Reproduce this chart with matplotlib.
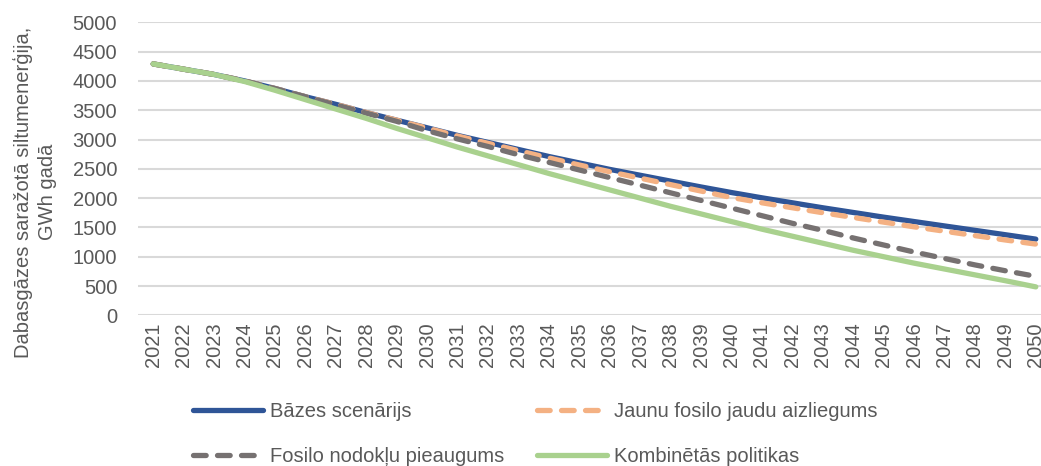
import matplotlib
matplotlib.use("Agg")
import matplotlib.pyplot as plt

years = list(range(2021, 2051))

bazes = [4290, 4200, 4110, 4000, 3870, 3730, 3600, 3460, 3330, 3200,
         3070, 2950, 2830, 2710, 2600, 2490, 2390, 2290, 2190, 2095,
         2005, 1920, 1835, 1755, 1675, 1600, 1525, 1450, 1375, 1300]
jaunu = [4290, 4200, 4110, 4000, 3870, 3730, 3600, 3460, 3330, 3195,
         3060, 2935, 2810, 2685, 2565, 2450, 2340, 2230, 2120, 2010,
         1920, 1835, 1750, 1670, 1590, 1510, 1435, 1360, 1285, 1215]
nodoklu = [4290, 4200, 4110, 4000, 3870, 3730, 3590, 3450, 3310, 3150,
           3010, 2880, 2740, 2610, 2480, 2350, 2220, 2090, 1960, 1830,
           1700, 1570, 1450, 1320, 1200, 1080, 970, 860, 760, 665]
kombi = [4290, 4200, 4110, 3990, 3840, 3680, 3520, 3360, 3190, 3030,
         2870, 2720, 2570, 2420, 2280, 2140, 2000, 1860, 1730, 1600,
         1470, 1350, 1230, 1110, 1000, 890, 790, 690, 590, 485]

labels = ["Bāzes scenārijs", "Jaunu fosilo jaudu aizliegums",
          "Fosilo nodokļu pieaugums", "Kombinētās politikas"]
yticks = [0, 500, 1000, 1500, 2000, 2500, 3000, 3500, 4000, 4500, 5000]
ylabel = "Dabasgāzes saražotā siltumenerģija,\nGWh gadā"

plt.rcParams["font.family"] = ["Liberation Sans", "DejaVu Sans"]
text_col = "#595959"
fs = 14.5

fig = plt.figure(figsize=(10.41, 4.66), dpi=100)
W, H = 1041, 466
ax = fig.add_axes([138 / W, 1 - 315.3 / H, (1051 - 138) / W, (315.3 - 22.3) / H])

x = list(range(len(years)))
lw = 3.8
dash = (2.4, 2.15)
ax.plot(x, bazes, color="#2F5597", lw=lw, solid_capstyle="round", label=labels[0], zorder=3)
ax.plot(x, jaunu, color="#F4B183", lw=lw, dashes=dash, dash_capstyle="round",
        label=labels[1], zorder=4)
ax.plot(x, nodoklu, color="#767171", lw=lw, dashes=dash, dash_capstyle="round",
        label=labels[2], zorder=5)
ax.plot(x, kombi, color="#A9D18E", lw=lw, solid_capstyle="round", label=labels[3], zorder=6)

ax.set_xlim(-0.5, len(years) - 0.5)
ax.set_ylim(0, 5000)
ax.set_xticks(x)
ax.set_xticklabels([str(y) for y in years], rotation=90, fontsize=fs, color=text_col)
ax.set_yticks(yticks)
ax.set_yticklabels([str(v) for v in yticks], fontsize=fs, color=text_col)
ax.tick_params(axis="both", length=0)
ax.tick_params(axis="y", pad=15)
ax.tick_params(axis="x", pad=5)
for s in ax.spines.values():
    s.set_visible(False)
ax.grid(axis="y", color="#D9D9D9", lw=1.5, zorder=0)
ax.set_axisbelow(True)

fig.text(35 / W, 1 - 192 / H, ylabel, rotation=90, ha="center", va="center",
         fontsize=fs, color=text_col, linespacing=1.37)

# legend filled row by row: first row holds the first two series
handles, lbls = ax.get_legend_handles_labels()
order = [0, 2, 1, 3]
leg = fig.legend([handles[i] for i in order], [lbls[i] for i in order], ncol=2,
                 loc="upper left", bbox_to_anchor=(193 / W, 1 - 402 / H),
                 frameon=False, borderaxespad=0, borderpad=0, handlelength=3.5,
                 handletextpad=0.3, columnspacing=1.65, labelspacing=1.3,
                 fontsize=fs)
for t in leg.get_texts():
    t.set_color(text_col)

fig.savefig("out.png", dpi=100)
